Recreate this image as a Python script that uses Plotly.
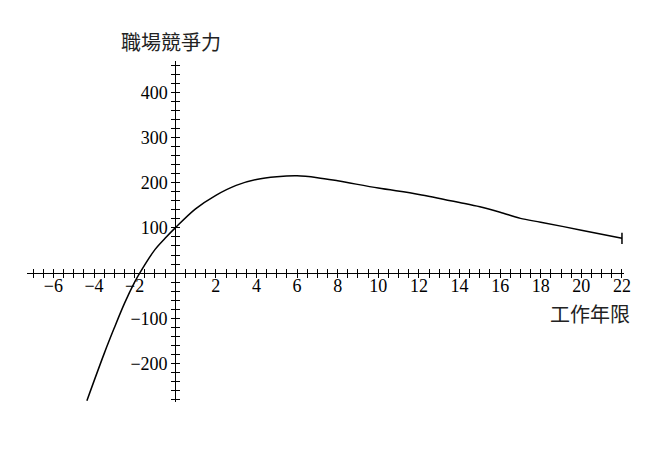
import numpy as np
import plotly.graph_objects as go

# ---- data ----
years = [-4.35, -3.5, -3.0, -2.5, -2.0, -1.75, -1.0, -0.5, 0.0, 1.0, 2.0, 3.0, 4.0,
         5.0, 6.0, 7.0, 8.0, 10.0, 12.0, 14.0, 15.0, 16.0, 17.0, 18.0, 20.0, 22.0]
competitiveness = [-282, -178, -121, -67, -20, 0, 52, 77, 100, 142, 172, 194, 207,
                   213, 215, 211, 204, 188, 174, 156, 146.5, 134.5, 121, 112.5, 95, 77]

x_label_vals = [-6, -4, -2, 2, 4, 6, 8, 10, 12, 14, 16, 18, 20, 22]
y_label_vals = [-200, -100, 100, 200, 300, 400]
x_tick_step = 0.5
y_tick_step = 20

x_title = "工作年限"
y_title = "職場競爭力"

# ---- geometry (page body has an 8px default margin) ----
OFF = 8
W, H = 660 - OFF, 451 - OFF
x_range = [-7.3, 22.1]
y_range = [-285, 469]
left_px, right_px, top_px, bottom_px = 27 - OFF, 624 - OFF, 61 - OFF, 402 - OFF

x_ticks = list(np.arange(-7.0, 22.0 + 1e-9, x_tick_step))
y_ticks = list(np.arange(-280, 460 + 1e-9, y_tick_step))


def fmt(v):
    return str(int(v)).replace("-", "\u2212")


x_text = [fmt(v) if any(abs(v - lv) < 1e-9 for lv in x_label_vals) else "" for v in x_ticks]
y_text = [fmt(v) if any(abs(v - lv) < 1e-9 for lv in y_label_vals) else "" for v in y_ticks]

xpos = (0 - y_range[0]) / (y_range[1] - y_range[0])
ypos = (0 - x_range[0]) / (x_range[1] - x_range[0])


def px_to_paper(px, py):
    return ((px - OFF - left_px) / (right_px - left_px),
            (bottom_px - (py - OFF)) / (bottom_px - top_px))


fig = go.Figure()
fig.add_trace(go.Scatter(
    x=years, y=competitiveness, mode="lines",
    line=dict(color="black", width=1.5, shape="spline", smoothing=0.9),
    showlegend=False, hoverinfo="skip"))
# end marker at last point
fig.add_trace(go.Scatter(
    x=[years[-1]], y=[competitiveness[-1]], mode="markers",
    marker=dict(symbol="line-ns", size=8, line=dict(color="black", width=1.5)),
    showlegend=False, hoverinfo="skip"))
# invisible trace on overlay axes (for crossing ticks)
fig.add_trace(go.Scatter(
    x=years, y=competitiveness, mode="lines", xaxis="x2", yaxis="y2",
    line=dict(color="rgba(0,0,0,0)", width=0), showlegend=False, hoverinfo="skip"))

tickfont = dict(family="Liberation Serif, serif", size=18, color="black")

common_x = dict(range=x_range, anchor="free", position=xpos, tickmode="array",
                tickvals=x_ticks, showgrid=False, zeroline=False, automargin=False,
                ticklen=4, tickwidth=1, tickcolor="black", fixedrange=True)
common_y = dict(range=y_range, anchor="free", position=ypos, tickmode="array",
                tickvals=y_ticks, showgrid=False, zeroline=False, automargin=False,
                ticklen=4, tickwidth=1, tickcolor="black", fixedrange=True)

tx, ty = px_to_paper(171, 41.5)
xx, xy = px_to_paper(590, 313)

fig.update_layout(
    width=W, height=H,
    margin=dict(l=left_px, r=W - right_px, t=top_px, b=H - bottom_px, autoexpand=False),
    paper_bgcolor="white", plot_bgcolor="white",
    xaxis=dict(**common_x, ticks="outside", ticktext=x_text, tickfont=tickfont,
               showline=True, linecolor="black", linewidth=1),
    yaxis=dict(**common_y, ticks="outside", ticktext=y_text, tickfont=tickfont,
               showline=True, linecolor="black", linewidth=1),
    xaxis2=dict(**common_x, overlaying="x", ticks="inside", showticklabels=False,
                showline=False),
    yaxis2=dict(**common_y, overlaying="y", ticks="inside", showticklabels=False,
                showline=False),
    annotations=[
        dict(text=y_title, xref="paper", yref="paper", x=tx, y=ty,
             xanchor="center", yanchor="middle", showarrow=False,
             font=dict(family="Noto Sans CJK TC", size=20, color="#222")),
        dict(text=x_title, xref="paper", yref="paper", x=xx, y=xy,
             xanchor="center", yanchor="middle", showarrow=False,
             font=dict(family="Noto Sans CJK TC", size=20, color="#222")),
    ],
)

try:
    fig.layout.xaxis.ticklabelstandoff = -8
except Exception:
    pass

fig.write_html("out.html")
